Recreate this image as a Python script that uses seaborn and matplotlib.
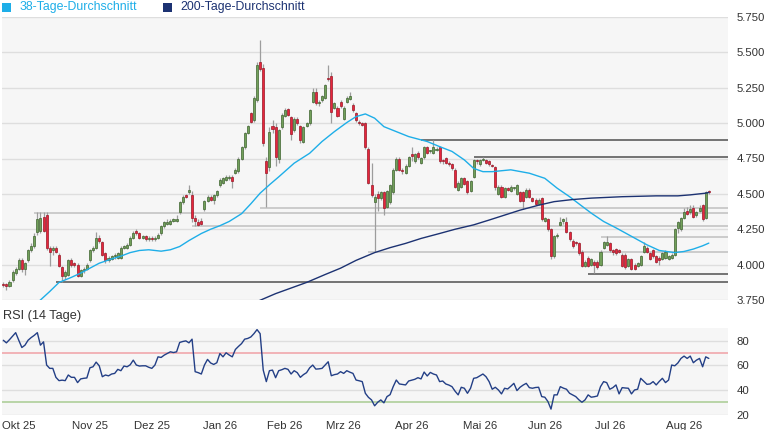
import numpy as np
import pandas as pd
import matplotlib
matplotlib.use("Agg")
import matplotlib.pyplot as plt
from matplotlib.patches import Rectangle
import seaborn as sns

# ---------------------------------------------------------------
# Daily candles, trading days from late Sep 2025 to mid Aug 2026
# ---------------------------------------------------------------
open_ = [
    3.86, 3.86, 3.85, 3.89, 3.94, 3.97, 4.03, 3.97, 4.03, 4.10,
    4.13, 4.23, 4.24, 4.34, 4.35, 4.12, 4.10, 4.12, 4.07, 3.98,
    3.92, 3.93, 4.03, 4.01, 4.00, 3.92, 3.96, 3.97, 4.03, 4.10,
    4.12, 4.19, 4.16, 4.08, 4.03, 4.04, 4.06, 4.05, 4.05, 4.12,
    4.12, 4.14, 4.19, 4.24, 4.22, 4.19, 4.20, 4.18, 4.19, 4.18,
    4.19, 4.22, 4.27, 4.29, 4.29, 4.31, 4.31, 4.37, 4.44, 4.49,
    4.51, 4.49, 4.33, 4.30, 4.31, 4.39, 4.45, 4.48, 4.46, 4.49,
    4.56, 4.58, 4.60, 4.61, 4.62, 4.65, 4.66, 4.75, 4.83, 4.93,
    5.07, 5.02,
    5.16, 5.43, 5.39, 4.73, 4.69, 4.98, 4.97, 4.75, 4.97, 5.05,
    5.10, 5.04, 4.95, 5.03, 4.98, 4.87, 4.98, 5.00, 5.15, 5.22,
    5.14, 5.16, 5.18, 5.32, 5.33, 5.11, 5.11, 5.15, 5.03, 5.15,
    5.17, 5.13, 5.07, 5.01, 5.00, 5.00, 4.82, 4.56, 4.44, 4.50,
    4.47, 4.51, 4.41, 4.44, 4.51, 4.67, 4.75, 4.67, 4.65, 4.70,
    4.78, 4.73, 4.79, 4.72, 4.76, 4.83, 4.80, 4.79, 4.81, 4.83,
    4.74, 4.75, 4.72, 4.71, 4.67, 4.53, 4.55, 4.61, 4.59, 4.52,
    4.62, 4.74, 4.71, 4.74, 4.74, 4.73, 4.70, 4.69,
    4.50, 4.55, 4.48, 4.54, 4.52, 4.54, 4.50, 4.51, 4.51, 4.48,
    4.53, 4.47, 4.46, 4.43, 4.47, 4.31, 4.32, 4.25, 4.06, 4.20,
    4.28, 4.31, 4.30, 4.23, 4.17, 4.16, 4.15, 4.09, 3.99, 4.05,
    4.00, 4.02, 4.02, 4.00, 4.12, 4.14, 4.15, 4.10, 4.11, 4.10,
    4.07, 4.07, 3.99, 4.04, 4.00, 3.99, 4.00, 4.09, 4.12, 4.08,
    4.10, 4.06, 4.05, 4.04, 4.05, 4.04, 4.05, 4.07, 4.26, 4.25,
    4.33, 4.38, 4.37, 4.40, 4.35, 4.38, 4.42, 4.33, 4.52,
]
close = [
    3.855, 3.85, 3.88, 3.95, 3.97, 4.03, 3.97, 4.01, 4.10, 4.13,
    4.20, 4.32, 4.33, 4.24, 4.12, 4.09, 4.12, 4.09, 3.99, 3.92,
    3.95, 4.03, 4.00, 4.00, 3.92, 3.96, 3.97, 4.00, 4.10, 4.12,
    4.19, 4.17, 4.07, 4.03, 4.05, 4.06, 4.07, 4.08, 4.12, 4.13,
    4.14, 4.19, 4.22, 4.22, 4.19, 4.20, 4.18, 4.19, 4.18, 4.19,
    4.21, 4.27, 4.30, 4.30, 4.31, 4.32, 4.32, 4.44, 4.48, 4.48,
    4.53, 4.33, 4.31, 4.28, 4.29, 4.45, 4.48, 4.46, 4.49, 4.52,
    4.60, 4.61, 4.62, 4.62, 4.59, 4.67, 4.75, 4.83, 4.93, 4.98,
    5.01, 5.18,
    5.41, 5.38, 4.86, 4.65, 4.94, 4.96, 4.76, 4.95, 5.06, 5.09,
    5.06, 4.92, 5.03, 5.00, 4.88, 4.97, 5.00, 5.09, 5.22, 5.14,
    5.15, 5.19, 5.27, 5.31, 5.08, 5.14, 5.05, 5.12, 5.11, 5.18,
    5.19, 5.09, 5.02, 5.00, 4.99, 4.83, 4.58, 4.49, 4.48, 4.47,
    4.51, 4.40, 4.52, 4.56, 4.67, 4.75, 4.67, 4.66, 4.70, 4.76,
    4.77, 4.78, 4.76, 4.75, 4.83, 4.79, 4.805, 4.83, 4.82, 4.73,
    4.73, 4.72, 4.71, 4.68, 4.55, 4.58, 4.61, 4.57, 4.51, 4.59,
    4.74, 4.73, 4.74, 4.75, 4.72, 4.71, 4.695, 4.55,
    4.55, 4.48, 4.54, 4.53, 4.55, 4.545, 4.56, 4.45, 4.45, 4.53,
    4.48, 4.45, 4.43, 4.46, 4.32, 4.33, 4.25, 4.06, 4.20, 4.21,
    4.30, 4.32, 4.23, 4.18, 4.13, 4.15, 4.08, 3.99, 4.02, 3.99,
    4.04, 4.00, 3.98, 4.09, 4.16, 4.16, 4.10, 4.09, 4.08, 4.09,
    3.99, 3.98, 4.04, 3.97, 3.97, 4.01, 4.06, 4.13, 4.09, 4.04,
    4.06, 4.02, 4.03, 4.08, 4.09, 4.06, 4.07, 4.25, 4.30, 4.33,
    4.37, 4.36, 4.39, 4.34, 4.37, 4.40, 4.32, 4.51, 4.51,
]
high = [
    3.875, 3.87, 3.89, 3.96, 3.98, 4.05, 4.05, 4.02, 4.11, 4.15,
    4.22, 4.37, 4.37, 4.37, 4.37, 4.13, 4.13, 4.13, 4.08, 3.99,
    3.96, 4.04, 4.05, 4.02, 4.01, 3.97, 3.98, 4.01, 4.11, 4.13,
    4.23, 4.21, 4.17, 4.09, 4.06, 4.07, 4.08, 4.09, 4.13, 4.14,
    4.15, 4.20, 4.24, 4.25, 4.23, 4.21, 4.21, 4.20, 4.20, 4.20,
    4.22, 4.28, 4.31, 4.32, 4.32, 4.33, 4.35, 4.45, 4.49, 4.50,
    4.56, 4.52, 4.35, 4.32, 4.33, 4.46, 4.49, 4.49, 4.50, 4.53,
    4.61, 4.62, 4.63, 4.63, 4.63, 4.68, 4.76, 4.84, 4.94, 4.99,
    5.08, 5.19,
    5.43, 5.59, 5.42, 4.76, 4.97, 5.02, 5.00, 4.96, 5.07, 5.11,
    5.11, 5.05, 5.04, 5.04, 4.99, 4.98, 5.01, 5.10, 5.25, 5.25,
    5.16, 5.20, 5.28, 5.41, 5.36, 5.15, 5.12, 5.16, 5.12, 5.19,
    5.22, 5.14, 5.08, 5.02, 5.01, 5.01, 4.83, 4.72, 4.50, 4.52,
    4.52, 4.52, 4.53, 4.57, 4.68, 4.76, 4.76, 4.68, 4.71, 4.77,
    4.83, 4.79, 4.80, 4.76, 4.84, 4.84, 4.81, 4.88, 4.83, 4.84,
    4.75, 4.76, 4.73, 4.72, 4.68, 4.59, 4.62, 4.62, 4.60, 4.60,
    4.75, 4.75, 4.75, 4.76, 4.75, 4.74, 4.71, 4.70,
    4.56, 4.56, 4.55, 4.55, 4.56, 4.55, 4.57, 4.52, 4.52, 4.54,
    4.54, 4.48, 4.47, 4.47, 4.48, 4.34, 4.33, 4.26, 4.21, 4.22,
    4.34, 4.33, 4.34, 4.24, 4.18, 4.17, 4.16, 4.10, 4.03, 4.06,
    4.05, 4.03, 4.03, 4.10, 4.17, 4.20, 4.16, 4.11, 4.12, 4.11,
    4.08, 4.08, 4.05, 4.05, 4.01, 4.02, 4.07, 4.16, 4.13, 4.09,
    4.11, 4.07, 4.06, 4.09, 4.10, 4.07, 4.08, 4.26, 4.31, 4.34,
    4.40, 4.41, 4.42, 4.42, 4.38, 4.42, 4.43, 4.52, 4.53,
]
low = [
    3.84, 3.82, 3.84, 3.88, 3.93, 3.96, 3.95, 3.93, 4.02, 4.09,
    4.12, 4.21, 4.22, 4.23, 4.10, 3.99, 4.07, 4.08, 3.98, 3.88,
    3.90, 3.92, 3.98, 3.98, 3.91, 3.91, 3.94, 3.96, 4.02, 4.09,
    4.11, 4.15, 4.06, 4.01, 4.02, 4.03, 4.04, 4.04, 4.04, 4.11,
    4.11, 4.13, 4.18, 4.21, 4.18, 4.18, 4.17, 4.17, 4.17, 4.17,
    4.18, 4.21, 4.26, 4.28, 4.28, 4.30, 4.30, 4.36, 4.43, 4.47,
    4.50, 4.30, 4.27, 4.27, 4.28, 4.38, 4.44, 4.45, 4.43, 4.48,
    4.55, 4.57, 4.59, 4.60, 4.54, 4.64, 4.65, 4.74, 4.82, 4.92,
    5.00, 5.01,
    5.15, 5.37, 4.84, 4.41, 4.66, 4.93, 4.70, 4.72, 4.96, 5.04,
    5.05, 4.88, 4.94, 4.99, 4.86, 4.86, 4.97, 4.99, 5.14, 5.13,
    5.12, 5.15, 5.17, 5.30, 5.00, 5.10, 5.04, 5.11, 5.02, 5.14,
    5.16, 5.08, 5.01, 4.99, 4.98, 4.82, 4.57, 4.48, 4.09, 4.38,
    4.46, 4.35, 4.40, 4.43, 4.50, 4.66, 4.66, 4.64, 4.64, 4.69,
    4.73, 4.72, 4.75, 4.71, 4.75, 4.78, 4.79, 4.78, 4.80, 4.72,
    4.71, 4.71, 4.70, 4.67, 4.54, 4.52, 4.54, 4.56, 4.50, 4.51,
    4.61, 4.71, 4.70, 4.73, 4.71, 4.70, 4.69, 4.53,
    4.49, 4.47, 4.47, 4.52, 4.51, 4.53, 4.49, 4.44, 4.39, 4.47,
    4.47, 4.44, 4.42, 4.42, 4.31, 4.30, 4.24, 4.04, 4.05, 4.19,
    4.27, 4.29, 4.22, 4.17, 4.12, 4.14, 4.07, 3.98, 3.98, 3.98,
    3.99, 3.94, 3.97, 3.99, 4.11, 4.13, 4.09, 4.07, 4.07, 4.08,
    3.98, 3.97, 3.98, 3.96, 3.96, 3.98, 3.99, 4.08, 4.08, 4.03,
    4.05, 4.01, 4.00, 4.03, 4.04, 4.03, 4.04, 4.06, 4.22, 4.24,
    4.32, 4.35, 4.36, 4.33, 4.34, 4.37, 4.31, 4.32, 4.50,
]

# RSI (14 Tage), one value per trading day
rsi = [
    80.5, 78.4, 81.0, 83.8, 86.7, 80.5, 74.6, 76.5, 80.5, 82.7,
    84.5, 86.7, 76.5, 79.2, 60.3, 57.6, 57.6, 50.3, 47.6, 48.0,
    47.6, 52.2, 50.3, 50.3, 46.0, 49.0, 49.5, 49.8, 58.1, 58.9,
    62.7, 59.7, 50.8, 52.2, 51.5, 53.0, 53.5, 56.8, 55.7, 59.5,
    58.9, 60.5, 64.3, 60.3, 59.5, 59.7, 59.7, 58.5, 57.6, 60.3,
    67.0, 66.5, 68.4, 69.7, 71.1, 70.5, 71.1, 78.7, 79.5, 80.0,
    78.4, 81.4, 54.9, 54.1, 53.0, 60.3, 64.9, 62.0, 60.8, 62.2,
    69.7, 67.0, 70.3, 68.5, 67.0, 73.0, 75.5, 77.8, 81.4, 82.0,
    83.2, 85.9, 89.2, 85.9, 56.2, 46.8, 55.7, 56.2, 50.0, 55.7,
    56.5, 57.6, 56.8, 53.0, 55.7, 54.1, 50.3, 52.5, 54.1, 58.0,
    60.3, 57.0, 57.2, 57.6, 60.3, 63.0, 51.6, 52.5, 53.0, 54.9,
    53.5, 55.7, 54.5, 53.5, 48.1, 47.5, 46.8, 37.3, 34.0, 31.9,
    27.1, 30.0, 31.9, 29.5, 34.6, 36.2, 42.7, 48.1, 44.9, 44.5,
    44.1, 47.3, 48.0, 48.7, 50.0, 49.0, 54.6, 51.4, 54.3, 53.0,
    52.2, 46.8, 47.3, 44.9, 44.0, 42.7, 39.0, 36.0, 42.2, 41.4,
    37.3, 41.4, 49.5, 50.0, 51.5, 53.0, 50.8, 46.8, 40.6, 42.2,
    40.0, 36.8, 41.4, 40.8, 43.0, 45.4, 39.5, 42.2, 44.0, 45.4,
    41.9, 41.4, 42.0, 42.2, 34.6, 34.1, 30.6, 24.4, 36.0, 36.0,
    42.7, 41.5, 40.6, 37.3, 36.0, 34.6, 32.0, 30.0, 31.9, 36.0,
    34.1, 34.5, 35.1, 42.7, 46.8, 46.0, 40.6, 41.9, 44.1, 36.8,
    41.9, 41.6, 41.4, 36.8, 40.0, 40.6, 49.5, 47.0, 44.6, 44.9,
    46.8, 44.1, 47.0, 49.5, 46.0, 48.1, 60.3, 59.7, 62.0, 65.7,
    67.6, 65.7, 67.6, 62.2, 64.3, 65.7, 58.9, 67.0, 65.7,
]

# moving averages (trading-day index, value)
ma38_day = [10, 12, 15, 18, 22, 25, 28, 31, 35, 38, 41, 44, 47, 51, 54, 57,
            60, 64, 67, 70, 73, 77, 80, 83, 86, 89, 94, 99, 103, 107, 111,
            114, 117, 120, 123, 127, 131, 137, 141, 145, 149, 152, 155, 158,
            164, 170, 175, 179, 183, 186, 190, 194, 198, 203, 208, 212, 217,
            220, 223, 226, 228]
ma38 = [3.71, 3.75, 3.81, 3.874, 3.91, 3.94, 3.975, 4.01, 4.04, 4.06, 4.085,
        4.10, 4.105, 4.095, 4.105, 4.128, 4.17, 4.22, 4.25, 4.275, 4.305,
        4.36, 4.43, 4.505, 4.564, 4.62, 4.717, 4.787, 4.87, 4.94, 5.004,
        5.046, 5.065, 5.035, 4.975, 4.94, 4.905, 4.87, 4.834, 4.80, 4.74,
        4.68, 4.657, 4.657, 4.67, 4.646, 4.61, 4.54, 4.48, 4.43, 4.364,
        4.305, 4.26, 4.20, 4.14, 4.10, 4.085, 4.093, 4.11, 4.133, 4.152]

ma200_day = [80, 88, 98, 104, 109, 114, 120, 125, 130, 135, 141, 146, 152,
             157, 162, 167, 173, 178, 184, 190, 200, 211, 218, 222, 227, 228]
ma200 = [3.72, 3.795, 3.874, 3.93, 3.975, 4.03, 4.085, 4.12, 4.15, 4.185,
         4.22, 4.25, 4.281, 4.315, 4.35, 4.385, 4.42, 4.445, 4.46, 4.47,
         4.48, 4.486, 4.486, 4.493, 4.505, 4.51]

# support / resistance levels and the day they start
levels = [4.881, 4.761, 4.401, 4.366, 4.274, 4.196, 4.090, 3.935, 3.879]
level_start = [135, 152, 83, 10, 61, 193, 118, 189, 17]
level_strong = [True, True, False, False, False, False, False, True, True]

# x axis: first trading day of each month
month_day = [5, 28, 48, 70, 91, 110, 132, 154, 175, 196, 220]
month_labels = ["Okt 25", "Nov 25", "Dez 25", "Jan 26", "Feb 26", "Mrz 26",
                "Apr 26", "Mai 26", "Jun 26", "Jul 26", "Aug 26"]

price_ticks = [3.75, 4.0, 4.25, 4.5, 4.75, 5.0, 5.25, 5.5, 5.75]
rsi_ticks = [20, 40, 60, 80]

df = pd.DataFrame({"open": open_, "high": high, "low": low, "close": close,
                   "rsi": rsi})
df["day"] = np.arange(len(df))
ma38_df = pd.DataFrame({"day": ma38_day, "value": ma38})
ma200_df = pd.DataFrame({"day": ma200_day, "value": ma200})

# ---------------------------------------------------------------
# Style
# ---------------------------------------------------------------
sns.set_style("white")
plt.rcParams["font.family"] = ["Liberation Sans", "DejaVu Sans"]

BG = "#f6f6f6"
GRID = "#dedede"
TXT = "#333333"
LIGHT_BLUE = "#1eaee8"
NAVY = "#1c3272"
UP_FILL, UP_EDGE = "#72a05a", "#3f6430"
DN_FILL, DN_EDGE = "#e6263c", "#9a1727"
WICK = "#9d9d9d"

W, H = 765, 430
fig = plt.figure(figsize=(W / 100, H / 100), dpi=100)
ax = fig.add_axes([2 / W, 1 - 300 / H, 726 / W, 283 / H])
ax_rsi = fig.add_axes([2 / W, 1 - 415 / H, 726 / W, 87 / H])

xlim = (-0.42, 234.2)

for a in (ax, ax_rsi):
    a.set_facecolor(BG)
    for s in a.spines.values():
        s.set_visible(False)
    a.set_xlim(*xlim)
    a.yaxis.tick_right()
    a.tick_params(axis="y", length=0, pad=6, labelsize=8.2, labelcolor=TXT)
    a.set_xlabel("")
    a.set_ylabel("")

# ---------------------------------------------------------------
# Price panel
# ---------------------------------------------------------------
for t in price_ticks:
    ax.axhline(t, color=GRID, lw=1, zorder=0)

for lv, st, strong in zip(levels, level_start, level_strong):
    ax.hlines(lv, st, xlim[1], color="#505050" if strong else "#c0c0c0",
              lw=1.1, zorder=1)

ax.vlines(df["day"], df["low"], df["high"], color=WICK, lw=0.9, zorder=2)
up = df["close"] >= df["open"]
body_lo = df[["open", "close"]].min(axis=1)
body_h = (df["close"] - df["open"]).abs().clip(lower=0.008)
ax.bar(df["day"], body_h, bottom=body_lo, width=0.66,
       color=np.where(up, UP_FILL, DN_FILL),
       edgecolor=np.where(up, UP_EDGE, DN_EDGE), linewidth=0.5, zorder=3)

sns.lineplot(data=ma38_df, x="day", y="value", ax=ax, color=LIGHT_BLUE,
             lw=1.0, estimator=None, sort=False, zorder=4)
sns.lineplot(data=ma200_df, x="day", y="value", ax=ax, color=NAVY,
             lw=1.0, estimator=None, sort=False, zorder=4)

ax.set_ylim(3.75, 5.75)
ax.set_xlim(*xlim)
ax.set_yticks(price_ticks)
ax.set_yticklabels([f"{t:.3f}" for t in price_ticks])
ax.set_xticks([])
ax.set_xlabel("")
ax.set_ylabel("")

# ---------------------------------------------------------------
# RSI panel
# ---------------------------------------------------------------
for t in rsi_ticks:
    ax_rsi.axhline(t, color=GRID, lw=1, zorder=0)
ax_rsi.axhline(70, color="#f0a0a6", lw=1.1, zorder=1)
ax_rsi.axhline(30, color="#a9cc92", lw=1.1, zorder=1)
sns.lineplot(data=df, x="day", y="rsi", ax=ax_rsi, color="#233f86", lw=1.0,
             estimator=None, sort=False, zorder=3)
ax_rsi.set_ylim(19.6, 90.5)
ax_rsi.set_xlim(*xlim)
ax_rsi.set_yticks(rsi_ticks)
ax_rsi.set_yticklabels([str(t) for t in rsi_ticks])
ax_rsi.set_xticks(month_day)
ax_rsi.set_xticklabels(month_labels)
ax_rsi.tick_params(axis="x", length=0, pad=4, labelsize=8.2, labelcolor=TXT)
ax_rsi.set_xlabel("")
ax_rsi.set_ylabel("")

# ---------------------------------------------------------------
# Header texts / legend
# ---------------------------------------------------------------
fig.add_artist(Rectangle((2 / W, 1 - 11.5 / H), 9 / W, 9 / H,
                         transform=fig.transFigure, color=LIGHT_BLUE, lw=0))
fig.text(20 / W, 1 - 7 / H, "38-Tage-Durchschnitt", color=LIGHT_BLUE,
         fontsize=8.9, va="center", ha="left")
fig.add_artist(Rectangle((163 / W, 1 - 11.5 / H), 9 / W, 9 / H,
                         transform=fig.transFigure, color=NAVY, lw=0))
fig.text(180 / W, 1 - 7 / H, "200-Tage-Durchschnitt", color=NAVY,
         fontsize=8.9, va="center", ha="left")
fig.text(3 / W, 1 - 316 / H, "RSI (14 Tage)", color=TXT, fontsize=9.2,
         va="center", ha="left")

fig.savefig("out.png", dpi=100, facecolor="white")
